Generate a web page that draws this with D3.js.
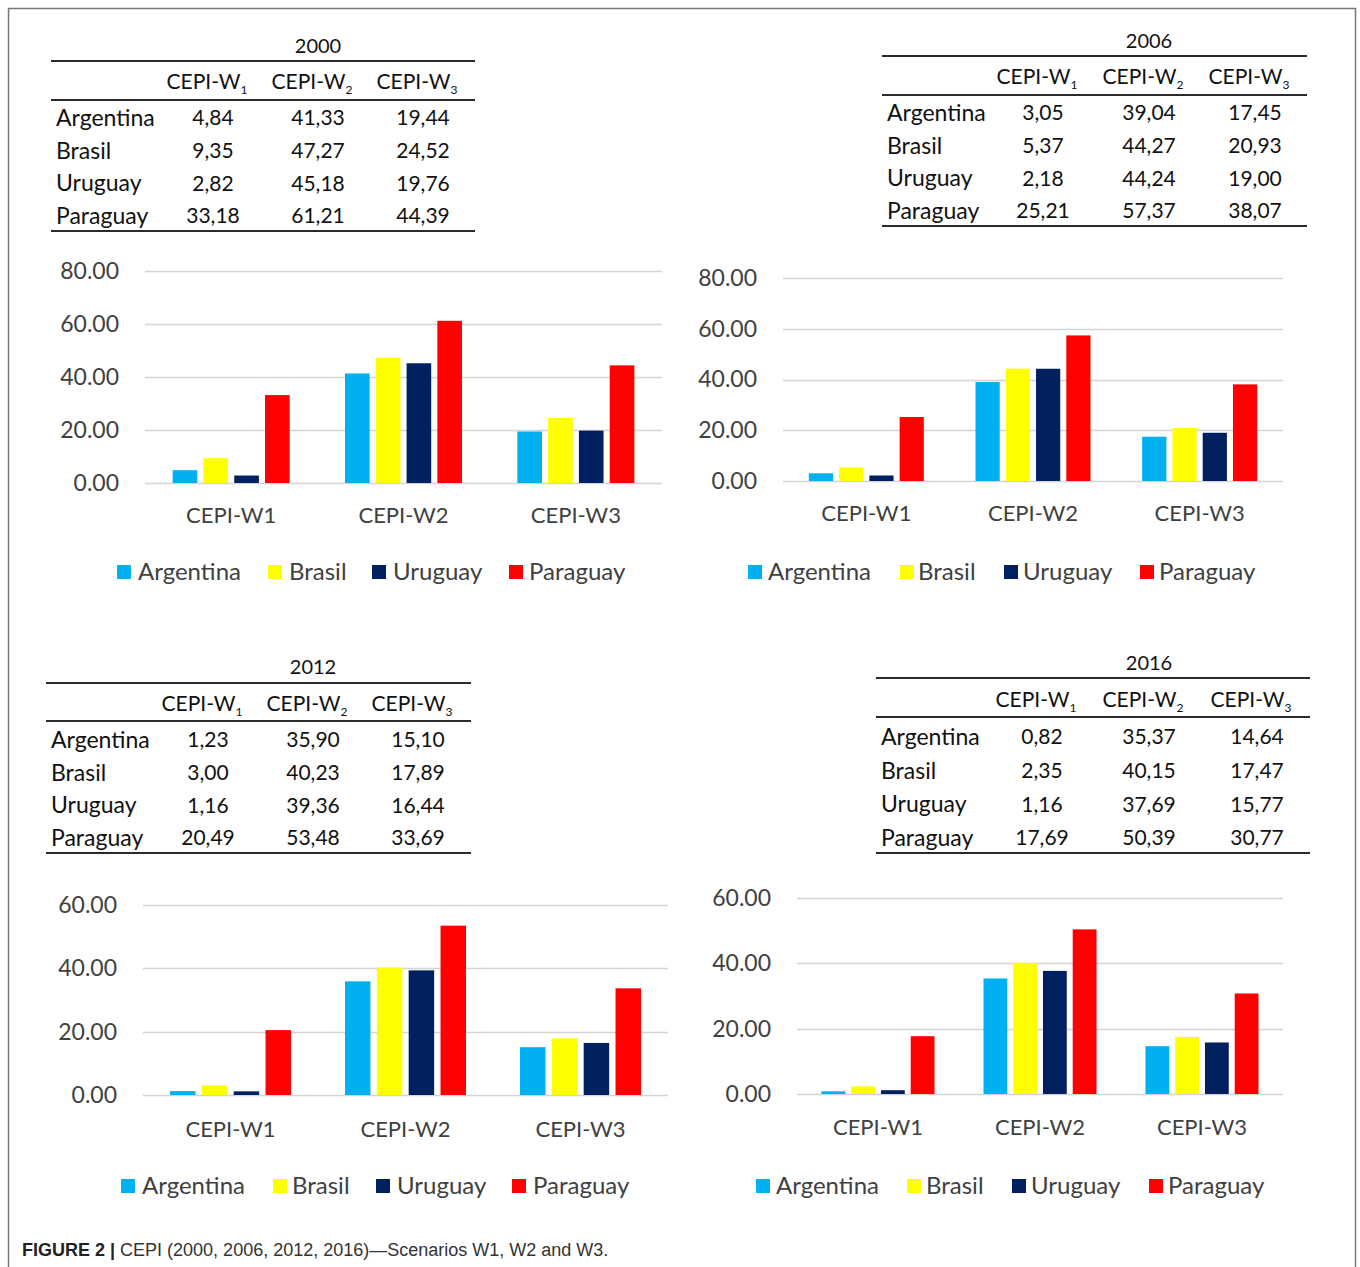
<!DOCTYPE html>
<html>
<head>
<meta charset="utf-8">
<script src="https://cdn.jsdelivr.net/npm/d3@7"></script>
<style>
  html, body { margin: 0; padding: 0; background: #fff; }
  svg { display: block; }
</style>
</head>
<body>
<svg id="fig" width="1360" height="1267"></svg>
<script>
// ---------- DATA ----------
const countries = ["Argentina", "Brasil", "Uruguay", "Paraguay"];
const scenarios = ["CEPI-W1", "CEPI-W2", "CEPI-W3"];
const scenarioSubs = ["1", "2", "3"];
const years = ["2000", "2006", "2012", "2016"];
// rows = countries, columns = W1, W2, W3
const values2000 = [[4.84, 41.33, 19.44], [9.35, 47.27, 24.52], [2.82, 45.18, 19.76], [33.18, 61.21, 44.39]];
const values2006 = [[3.05, 39.04, 17.45], [5.37, 44.27, 20.93], [2.18, 44.24, 19.00], [25.21, 57.37, 38.07]];
const values2012 = [[1.23, 35.90, 15.10], [3.00, 40.23, 17.89], [1.16, 39.36, 16.44], [20.49, 53.48, 33.69]];
const values2016 = [[0.82, 35.37, 14.64], [2.35, 40.15, 17.47], [1.16, 37.69, 15.77], [17.69, 50.39, 30.77]];
const yMaxes = [80, 80, 60, 60];
const caption = "CEPI (2000, 2006, 2012, 2016)\u2014Scenarios W1, W2 and W3.";

const colors = {Argentina: "#00B0F0", Brasil: "#FFFF00", Uruguay: "#002060", Paraguay: "#FF0000"};
const allValues = [values2000, values2006, values2012, values2016];

// ---------- LAYOUT ----------
const layouts = [
  { // 2000
    tbl: {x0: 51, x1: 475, titleY: 46, ruleTop: 61, headY: 82, ruleHead: 100, row0: 118, rowStep: 32.7, ruleBot: 231, countryX: 56, colX: [213, 318, 423]},
    ch: {gx0: 145, gx1: 662, yTop: 271, y0: 483, groupW: 117, xLabY: 515},
    lg: {y: 572, sq: [117, 268, 372, 509], tx: [138, 289, 393, 529]}
  },
  { // 2006
    tbl: {x0: 882, x1: 1307, titleY: 41, ruleTop: 56, headY: 77, ruleHead: 95, row0: 113, rowStep: 32.7, ruleBot: 226, countryX: 887, colX: [1043, 1149, 1255]},
    ch: {gx0: 783, gx1: 1283, yTop: 278, y0: 481, groupW: 115, xLabY: 513},
    lg: {y: 572, sq: [748, 900, 1004, 1140], tx: [768, 918, 1023, 1159]}
  },
  { // 2012
    tbl: {x0: 46, x1: 471, titleY: 667, ruleTop: 683, headY: 704, ruleHead: 721, row0: 740, rowStep: 32.7, ruleBot: 853, countryX: 51, colX: [208, 313, 418]},
    ch: {gx0: 143, gx1: 668, yTop: 905, y0: 1095, groupW: 121, xLabY: 1129},
    lg: {y: 1186, sq: [121, 273, 376, 512], tx: [142, 292, 397, 533]}
  },
  { // 2016
    tbl: {x0: 876, x1: 1310, titleY: 663, ruleTop: 678, headY: 700, ruleHead: 717, row0: 737, rowStep: 33.7, ruleBot: 853, countryX: 881, colX: [1042, 1149, 1257]},
    ch: {gx0: 797, gx1: 1283, yTop: 898, y0: 1094, groupW: 113, xLabY: 1127},
    lg: {y: 1186, sq: [756, 907, 1012, 1149], tx: [776, 926, 1031, 1168]}
  }
];

const svg = d3.select("#fig");
const FONT = "Lato, 'Open Sans', sans-serif";

// outer frame
svg.append("rect").attr("x", 8.5).attr("y", 8.5).attr("width", 1347).attr("height", 1270)
  .attr("fill", "none").attr("stroke", "#777").attr("stroke-width", 1.5);

const fmtComma = v => d3.format(".2f")(v).replace(".", ",");

years.forEach((yr, i) => {
  const L = layouts[i];
  const vals = allValues[i];
  const g = svg.append("g");

  // ---------- table ----------
  const t = L.tbl;
  const tg = g.append("g").attr("font-family", FONT).attr("fill", "#111");
  tg.append("text").attr("x", (t.colX[1])).attr("y", t.titleY).attr("dy", "0.35em")
    .attr("text-anchor", "middle").attr("font-size", 20).text(yr);
  [t.ruleTop, t.ruleHead, t.ruleBot].forEach(y => {
    tg.append("line").attr("x1", t.x0).attr("x2", t.x1).attr("y1", y).attr("y2", y)
      .attr("stroke", "#2a2a2a").attr("stroke-width", 2);
  });
  scenarios.forEach((s, j) => {
    const txt = tg.append("text").attr("x", t.colX[j] - 6).attr("y", t.headY).attr("dy", "0.35em")
      .attr("text-anchor", "middle").attr("font-size", 21);
    txt.append("tspan").text("CEPI-W");
    txt.append("tspan").attr("font-size", 12).attr("dy", "0.35em").text(scenarioSubs[j]);
  });
  countries.forEach((c, r) => {
    const y = t.row0 + r * t.rowStep;
    tg.append("text").attr("x", t.countryX).attr("y", y).attr("dy", "0.35em")
      .attr("font-size", 23).text(c);
    vals[r].forEach((v, j) => {
      tg.append("text").attr("x", t.colX[j]).attr("y", y).attr("dy", "0.35em")
        .attr("text-anchor", "middle").attr("font-size", 21).text(fmtComma(v));
    });
  });

  // ---------- chart ----------
  const c = L.ch;
  const y = d3.scaleLinear().domain([0, yMaxes[i]]).range([c.y0, c.yTop]);
  const x0 = d3.scaleBand().domain(scenarios).range([c.gx0, c.gx1]).padding(0);
  const bw = x0.bandwidth();
  const x1 = d3.scaleBand().domain(countries)
    .range([(bw - c.groupW) / 2, (bw + c.groupW) / 2]).paddingInner(0.2);

  const ticks = d3.range(0, yMaxes[i] + 1, 20);
  // gridlines
  g.append("g").selectAll("line").data(ticks).join("line")
    .attr("x1", c.gx0).attr("x2", c.gx1)
    .attr("y1", d => Math.round(y(d)) + 0.5).attr("y2", d => Math.round(y(d)) + 0.5)
    .attr("stroke", "#d4d4d4").attr("stroke-width", 1.5);

  // y axis labels
  const yAx = g.append("g").attr("transform", `translate(${c.gx0},0)`)
    .call(d3.axisLeft(y).tickValues(ticks).tickFormat(d3.format(".2f")).tickSize(0).tickPadding(26));
  yAx.select(".domain").remove();
  yAx.selectAll("text").attr("font-family", FONT).attr("font-size", 23).attr("fill", "#404040");

  // bars
  const groups = g.append("g").selectAll("g").data(scenarios).join("g")
    .attr("transform", s => `translate(${x0(s)},0)`);
  groups.selectAll("rect").data((s, j) => countries.map((cn, r) => ({cn, v: vals[r][j]})))
    .join("rect")
    .attr("x", d => x1(d.cn)).attr("width", x1.bandwidth())
    .attr("y", d => y(d.v)).attr("height", d => y(0) - y(d.v))
    .attr("fill", d => colors[d.cn]);

  // x axis labels
  const xAx = g.append("g").attr("transform", `translate(0,${c.xLabY})`)
    .call(d3.axisBottom(x0).tickSize(0).tickPadding(0));
  xAx.select(".domain").remove();
  xAx.selectAll("text").attr("font-family", FONT).attr("font-size", 22).attr("fill", "#404040")
    .attr("dy", "0.35em");

  // legend
  const lg = L.lg;
  countries.forEach((cn, k) => {
    g.append("rect").attr("x", lg.sq[k]).attr("y", lg.y - 7).attr("width", 14).attr("height", 14)
      .attr("fill", colors[cn]);
    g.append("text").attr("x", lg.tx[k]).attr("y", lg.y).attr("dy", "0.35em")
      .attr("font-family", FONT).attr("font-size", 24).attr("fill", "#404040").text(cn);
  });
});

// caption
const cap = svg.append("text").attr("x", 22).attr("y", 1250).attr("dy", "0.35em")
  .attr("font-family", "'Liberation Sans Narrow', 'Liberation Sans', Arial, sans-serif")
  .attr("font-size", 18).attr("fill", "#222");
cap.append("tspan").attr("font-weight", "bold").text("FIGURE 2 | ");
cap.append("tspan").attr("fill", "#333").text(caption);
</script>
</body>
</html>
